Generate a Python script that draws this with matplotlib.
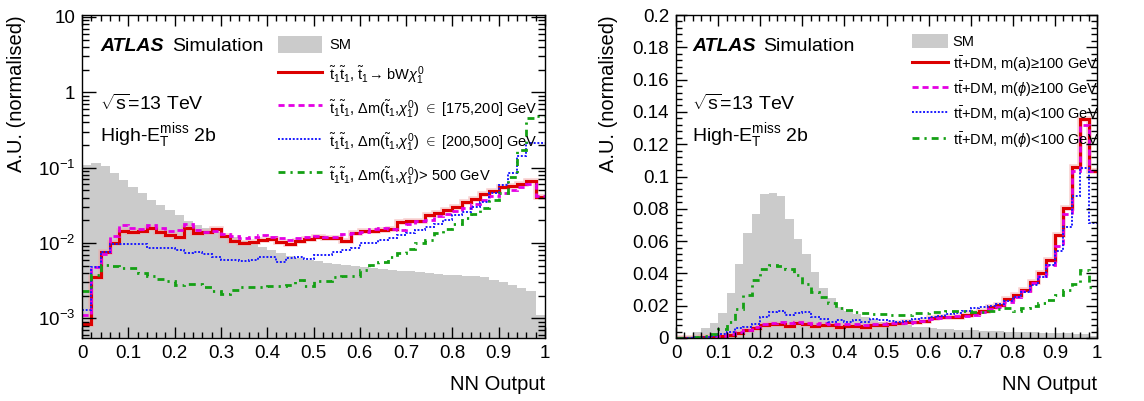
import numpy as np
import matplotlib
matplotlib.use('Agg')
import matplotlib.pyplot as plt
from matplotlib.ticker import MultipleLocator, LogLocator, NullFormatter, FuncFormatter

plt.rcParams['font.family'] = ['Liberation Sans', 'DejaVu Sans']
plt.rcParams['mathtext.fontset'] = 'custom'
plt.rcParams['mathtext.rm'] = 'Liberation Sans'
plt.rcParams['mathtext.it'] = 'Liberation Sans:italic'
plt.rcParams['mathtext.bf'] = 'Liberation Sans:bold'

# 50 bins of NN output, width 0.02
edges = np.linspace(0, 1, 51)

# stop signal region (log scale)
stop_sm = [0.108, 0.117, 0.106, 0.086, 0.068,
           0.056, 0.0465, 0.037, 0.032, 0.0273,
           0.0235, 0.0198, 0.0173, 0.0157, 0.0141,
           0.0128, 0.0119, 0.0107, 0.0096, 0.0089,
           0.0081, 0.0074, 0.0067, 0.0063, 0.0060,
           0.0057, 0.0055, 0.0053, 0.0051, 0.0049,
           0.0048, 0.0046, 0.0045, 0.0044, 0.0042,
           0.0042, 0.0041, 0.0040, 0.0039, 0.0038,
           0.0038, 0.0037, 0.0037, 0.0035, 0.0032,
           0.0030, 0.0028, 0.0025, 0.0023, 0.0011]
stop_bwn = [0.00085, 0.0035, 0.0077, 0.0099, 0.0146,
            0.0141, 0.0144, 0.0159, 0.0141, 0.0128,
            0.0121, 0.0159, 0.0134, 0.0141, 0.0152,
            0.0124, 0.0107, 0.0099, 0.0102, 0.0110,
            0.0113, 0.0104, 0.0096, 0.0107, 0.0113,
            0.0120, 0.0118, 0.0115, 0.0108, 0.0137,
            0.0146, 0.0146, 0.0150, 0.0155, 0.0190,
            0.0195, 0.0195, 0.0235, 0.0250, 0.0273,
            0.0303, 0.0353, 0.0380, 0.0446, 0.0490,
            0.0546, 0.0580, 0.0600, 0.0670, 0.0410]
stop_175_200 = [0.0011, 0.0048, 0.0072, 0.0125, 0.0175,
                0.0160, 0.0155, 0.0175, 0.0160, 0.0145,
                0.0150, 0.0178, 0.0150, 0.0140, 0.0145,
                0.0130, 0.0125, 0.0115, 0.0120, 0.0128,
                0.0122, 0.0115, 0.0110, 0.0118, 0.0120,
                0.0125, 0.0120, 0.0122, 0.0130, 0.0135,
                0.0140, 0.0152, 0.0158, 0.0155, 0.0150,
                0.0180, 0.0195, 0.0200, 0.0230, 0.0245,
                0.0270, 0.0290, 0.0330, 0.0370, 0.0420,
                0.0460, 0.0500, 0.0550, 0.0600, 0.0420]
stop_200_500 = [0.0013, 0.0048, 0.0077, 0.0097, 0.0098,
                0.0098, 0.0097, 0.0086, 0.0086, 0.0085,
                0.0082, 0.0073, 0.0075, 0.0072, 0.0065,
                0.0060, 0.0060, 0.0058, 0.0060, 0.0066,
                0.0065, 0.0056, 0.0064, 0.0066, 0.0062,
                0.0069, 0.0069, 0.0077, 0.0080, 0.0085,
                0.0099, 0.0100, 0.0109, 0.0118, 0.0128,
                0.0137, 0.0150, 0.0165, 0.0180, 0.0202,
                0.0235, 0.0260, 0.0303, 0.0353, 0.0455,
                0.0590, 0.0860, 0.1420, 0.2130, 0.2150]
stop_500 = [0.0023, 0.0038, 0.0051, 0.0049, 0.0047,
            0.0046, 0.0040, 0.0036, 0.0033, 0.0031,
            0.0028, 0.0029, 0.0029, 0.0026, 0.0023,
            0.0021, 0.0024, 0.0026, 0.0026, 0.0026,
            0.0027, 0.0027, 0.0028, 0.0032, 0.0027,
            0.0031, 0.0031, 0.0035, 0.0037, 0.0037,
            0.0044, 0.0051, 0.0056, 0.0066, 0.0073,
            0.0083, 0.0099, 0.0110, 0.0134, 0.0155,
            0.0180, 0.0215, 0.0240, 0.0290, 0.0370,
            0.0460, 0.0750, 0.1700, 0.4500, 0.4800]

# ttbar + DM signal region (linear scale)
dm_sm = [0.0010, 0.0014, 0.0035, 0.0060, 0.0090,
         0.0157, 0.0280, 0.0460, 0.0650, 0.0770,
         0.0890, 0.0900, 0.0880, 0.0735, 0.0610,
         0.0520, 0.0410, 0.0310, 0.0245, 0.0194,
         0.0167, 0.0149, 0.0133, 0.0116, 0.0102,
         0.0092, 0.0085, 0.0078, 0.0071, 0.0067,
         0.0061, 0.0058, 0.0055, 0.0052, 0.0049,
         0.0047, 0.0045, 0.0043, 0.0041, 0.0040,
         0.0037, 0.0036, 0.0035, 0.0034, 0.0031,
         0.0030, 0.0030, 0.0025, 0.0024, 0.0010]
dm_a_high = [0.0002, 0.0002, 0.0003, 0.0005, 0.0006,
             0.0014, 0.0020, 0.0030, 0.0047, 0.0060,
             0.0078, 0.0084, 0.0088, 0.0076, 0.0092,
             0.0084, 0.0076, 0.0080, 0.0080, 0.0071,
             0.0076, 0.0074, 0.0067, 0.0082, 0.0082,
             0.0088, 0.0090, 0.0096, 0.0098, 0.0104,
             0.0122, 0.0127, 0.0133, 0.0133, 0.0143,
             0.0153, 0.0169, 0.0194, 0.0204, 0.0239,
             0.0265, 0.0296, 0.0347, 0.0402, 0.0486,
             0.0637, 0.0806, 0.1060, 0.1355, 0.1035]
dm_phi_high = [0.0002, 0.0002, 0.0003, 0.0004, 0.0006,
               0.0015, 0.0025, 0.0035, 0.0050, 0.0068,
               0.0085, 0.0092, 0.0098, 0.0095, 0.0098,
               0.0094, 0.0088, 0.0090, 0.0088, 0.0085,
               0.0087, 0.0084, 0.0082, 0.0085, 0.0087,
               0.0090, 0.0092, 0.0095, 0.0100, 0.0105,
               0.0115, 0.0122, 0.0128, 0.0135, 0.0138,
               0.0145, 0.0160, 0.0180, 0.0195, 0.0225,
               0.0255, 0.0290, 0.0340, 0.0385, 0.0450,
               0.0570, 0.0765, 0.1035, 0.1320, 0.1035]
dm_a_low = [0.0003, 0.0003, 0.0005, 0.0008, 0.0010,
            0.0027, 0.0040, 0.0060, 0.0071, 0.0088,
            0.0133, 0.0160, 0.0169, 0.0143, 0.0157,
            0.0163, 0.0133, 0.0116, 0.0102, 0.0112,
            0.0102, 0.0112, 0.0096, 0.0116, 0.0112,
            0.0108, 0.0102, 0.0106, 0.0116, 0.0122,
            0.0133, 0.0137, 0.0149, 0.0157, 0.0169,
            0.0184, 0.0190, 0.0198, 0.0210, 0.0231,
            0.0255, 0.0286, 0.0327, 0.0378, 0.0449,
            0.0541, 0.0690, 0.0880, 0.1050, 0.0710]
dm_phi_low = [0.0002, 0.0003, 0.0005, 0.0010, 0.0027,
              0.0055, 0.0102, 0.0178, 0.0265, 0.0361,
              0.0429, 0.0449, 0.0443, 0.0429, 0.0388,
              0.0337, 0.0286, 0.0251, 0.0214, 0.0188,
              0.0173, 0.0163, 0.0153, 0.0149, 0.0147,
              0.0145, 0.0143, 0.0145, 0.0153, 0.0155,
              0.0163, 0.0163, 0.0169, 0.0169, 0.0165,
              0.0163, 0.0160, 0.0167, 0.0178, 0.0184,
              0.0169, 0.0184, 0.0198, 0.0214, 0.0235,
              0.0265, 0.0296, 0.0337, 0.0422, 0.0316]

TT = r'$\tilde{\mathrm{t}}_1\tilde{\mathrm{t}}_1$'
DM = r'$\Delta$m($\tilde{\mathrm{t}}_1$,$\chi^0_1$)'
stop_labels = ['SM',
               TT + r', $\tilde{\mathrm{t}}_1$→ bW$\chi^0_1$',
               TT + ', ' + DM + r' $\in$ [175,200] GeV',
               TT + ', ' + DM + r' $\in$ [200,500] GeV',
               TT + ', ' + DM + '> 500 GeV']
dm_labels = ['SM',
             r't$\bar{\mathrm{t}}$+DM, m(a)≥100 GeV',
             r't$\bar{\mathrm{t}}$+DM, m($\phi$)≥100 GeV',
             r't$\bar{\mathrm{t}}$+DM, m(a)<100 GeV',
             r't$\bar{\mathrm{t}}$+DM, m($\phi$)<100 GeV']

GREY = '#cbcbcb'
RED = '#dc0000'
BAND = '#f2a3a3'
MAGENTA = '#e400e4'
BLUE = '#1a1aff'
GREEN = '#14a014'


def draw_panel(ax, sm, curves, labels, baseline, leg):
    sm_patch = ax.stairs(sm, edges, fill=True, color=GREY, baseline=baseline, lw=0)
    ax.stairs(curves[0], edges, color=BAND, lw=4, baseline=None, alpha=0.5)
    red = ax.stairs(curves[0], edges, color=RED, lw=2.2, baseline=None)
    mag = ax.stairs(curves[1], edges, color=MAGENTA, lw=2.0, baseline=None,
                    linestyle=(0, (2.2, 1.4)))
    blue = ax.stairs(curves[2], edges, color=BLUE, lw=1.4, baseline=None,
                     linestyle=(0, (1, 0.9)))
    green = ax.stairs(curves[3], edges, color=GREEN, lw=2.0, baseline=None,
                      linestyle=(0, (2.5, 1.8, 0.8, 1.8)))
    ax.legend([sm_patch, red, mag, blue, green], labels, loc='upper left',
              bbox_to_anchor=(leg['x'], leg['y']), frameon=False,
              fontsize=leg['size'], handlelength=leg['hlen'],
              handleheight=leg['hh'], handletextpad=leg['pad'],
              labelspacing=leg['spacing'], borderpad=0, borderaxespad=0)

    ax.set_xlim(0, 1)
    ax.xaxis.set_major_locator(MultipleLocator(0.1))
    ax.xaxis.set_minor_locator(MultipleLocator(0.02))
    ax.xaxis.set_major_formatter(FuncFormatter(lambda v, p: '%g' % round(v, 2)))
    ax.tick_params(which='both', direction='in', top=True, right=True,
                   labelsize=13.5, width=1.0)
    ax.tick_params(which='major', length=8, pad=5)
    ax.tick_params(which='minor', length=4)
    for s in ax.spines.values():
        s.set_linewidth(1.0)

    ax.set_xlabel('NN Output', fontsize=14.5, ha='right')
    ax.xaxis.set_label_coords(1.0, -0.115)
    ax.set_ylabel('A.U. (normalised)', fontsize=14.5, ha='right')

    ax.text(0.039, 0.89, 'ATLAS', transform=ax.transAxes, fontsize=14,
            fontweight='bold', fontstyle='italic')
    ax.text(0.039, 0.705, r'$\sqrt{\mathrm{s}}$=13 TeV', transform=ax.transAxes,
            fontsize=14)
    ax.text(0.039, 0.61, r'High-$\mathrm{E}_\mathrm{T}^\mathrm{miss}$ 2b',
            transform=ax.transAxes, fontsize=14)


fig = plt.figure(figsize=(11.44, 4.01), dpi=100)
ax1 = fig.add_axes([82 / 1144, 63 / 401, 463 / 1144, 323 / 401])
ax2 = fig.add_axes([676 / 1144, 63 / 401, 421 / 1144, 323 / 401])

# left: stop pair production, log scale
ax1.set_yscale('log')
draw_panel(ax1, stop_sm, [stop_bwn, stop_175_200, stop_200_500, stop_500],
           stop_labels, 1e-6,
           dict(x=0.423, y=0.935, size=10.5, hlen=3.0, hh=1.4, pad=0.5, spacing=0.8))
ax1.set_ylim(5.5e-4, 10.6)
ax1.yaxis.set_major_locator(LogLocator(base=10, numticks=10))
ax1.yaxis.set_minor_locator(LogLocator(base=10, subs=np.arange(2, 10), numticks=20))
ax1.yaxis.set_minor_formatter(NullFormatter())


def log_label(v, pos):
    if v >= 10:
        return '10'
    if abs(v - 1) < 1e-9:
        return '1'
    return r'$10^{%d}$' % round(np.log10(v))


ax1.yaxis.set_major_formatter(FuncFormatter(log_label))
ax1.tick_params(axis='y', which='major', length=10)
ax1.tick_params(axis='y', which='minor', length=5)
ax1.yaxis.set_label_coords(-0.121, 1.0)
ax1.text(0.194, 0.89, 'Simulation', transform=ax1.transAxes, fontsize=14)

# right: ttbar + DM, linear scale
draw_panel(ax2, dm_sm, [dm_a_high, dm_phi_high, dm_a_low, dm_phi_low],
           dm_labels, 0,
           dict(x=0.56, y=0.94, size=10.5, hlen=2.5, hh=1.1, pad=0.3, spacing=0.36))
ax2.set_ylim(0, 0.2)
ax2.yaxis.set_major_locator(MultipleLocator(0.02))
ax2.yaxis.set_minor_locator(MultipleLocator(0.004))
ax2.yaxis.set_major_formatter(FuncFormatter(lambda v, p: '%g' % round(v, 3)))
ax2.yaxis.set_label_coords(-0.138, 1.0)
ax2.text(0.207, 0.89, 'Simulation', transform=ax2.transAxes, fontsize=14)

fig.savefig('out.png', dpi=100)
